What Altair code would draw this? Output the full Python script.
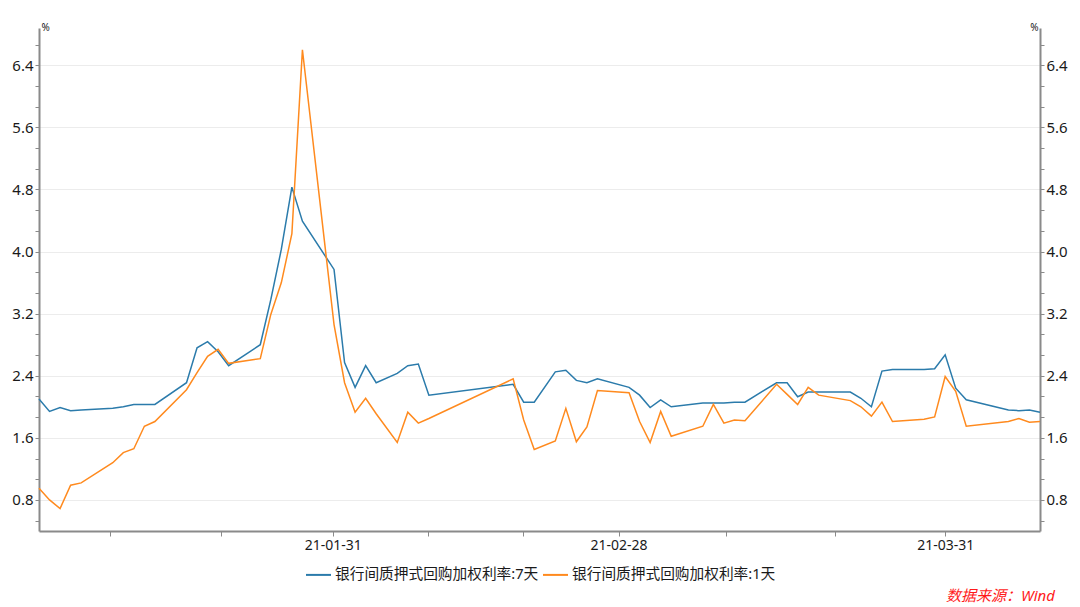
import altair as alt
import pandas as pd

dates = [
    "2021-01-04", "2021-01-05", "2021-01-06", "2021-01-07", "2021-01-08",
    "2021-01-11", "2021-01-12", "2021-01-13", "2021-01-14", "2021-01-15",
    "2021-01-18", "2021-01-19", "2021-01-20", "2021-01-21", "2021-01-22",
    "2021-01-25", "2021-01-26", "2021-01-27", "2021-01-28", "2021-01-29",
    "2021-02-01", "2021-02-02", "2021-02-03", "2021-02-04", "2021-02-05",
    "2021-02-07", "2021-02-08", "2021-02-09", "2021-02-10",
    "2021-02-18", "2021-02-19", "2021-02-20",
    "2021-02-22", "2021-02-23", "2021-02-24", "2021-02-25", "2021-02-26",
    "2021-03-01", "2021-03-02", "2021-03-03", "2021-03-04", "2021-03-05",
    "2021-03-08", "2021-03-09", "2021-03-10", "2021-03-11", "2021-03-12",
    "2021-03-15", "2021-03-16", "2021-03-17", "2021-03-18", "2021-03-19",
    "2021-03-22", "2021-03-23", "2021-03-24", "2021-03-25", "2021-03-26",
    "2021-03-29", "2021-03-30", "2021-03-31", "2021-04-01", "2021-04-02",
    "2021-04-06", "2021-04-07", "2021-04-08", "2021-04-09",
]

rate_7d = [
    2.10, 1.94, 1.99, 1.95, 1.96,
    1.98, 2.00, 2.03, 2.03, 2.03,
    2.31, 2.76, 2.84, 2.71, 2.53,
    2.80, 3.38, 4.03, 4.83, 4.39,
    3.77, 2.57, 2.25, 2.53, 2.31,
    2.43, 2.53, 2.55, 2.15,
    2.29, 2.06, 2.06,
    2.45, 2.47, 2.34, 2.31, 2.36,
    2.25, 2.15, 1.99, 2.09, 2.00,
    2.05, 2.05, 2.05, 2.06, 2.06,
    2.31, 2.31, 2.13, 2.19, 2.19,
    2.19, 2.11, 2.00, 2.46, 2.48,
    2.48, 2.49, 2.67, 2.24, 2.09,
    1.96, 1.95, 1.96, 1.93,
]

rate_1d = [
    0.95, 0.80, 0.69, 0.99, 1.02,
    1.28, 1.41, 1.46, 1.75, 1.81,
    2.22, 2.44, 2.65, 2.74, 2.56,
    2.62, 3.19, 3.60, 4.23, 6.60,
    3.06, 2.31, 1.93, 2.11, 1.91,
    1.54, 1.93, 1.79, 1.85,
    2.36, 1.83, 1.45,
    1.56, 1.98, 1.55, 1.74, 2.21,
    2.18, 1.81, 1.54, 1.94, 1.62,
    1.75, 2.03, 1.79, 1.83, 1.82,
    2.29, 2.16, 2.03, 2.25, 2.15,
    2.08, 2.00, 1.88, 2.06, 1.81,
    1.84, 1.87, 2.39, 2.20, 1.75,
    1.81, 1.85, 1.80, 1.81,
]

series_names = ["银行间质押式回购加权利率:7天", "银行间质押式回购加权利率:1天"]
series_colors = ["#2b7bab", "#ff8a1e"]
source_note = ["数据来源：Wind"]

n = len(dates)
df = pd.DataFrame({
    "date": dates + dates,
    "value": rate_7d + rate_1d,
    "series": [series_names[0]] * n + [series_names[1]] * n,
})

NUM_FONT = "Noto Sans"
MIX_FONT = "'Noto Sans', 'Noto Sans CJK SC'"
AXIS_GRAY = "#8a8a8a"
TEXT = "#1a1a1a"

def dt(m, d, h=0):
    return alt.DateTime(year=2021, month=m, date=d, hours=h, utc=True)

x_major_minor = [dt(1, 10, 18), dt(1, 21, 7), dt(1, 31, 21), dt(2, 9, 22), dt(2, 18, 22),
                 dt(2, 28, 0), dt(3, 10, 5), dt(3, 20, 12), dt(3, 31, 0)]

x_enc = alt.X(
    "date:T",
    title=None,
    scale=alt.Scale(type="utc", domain=[dt(1, 4), dt(4, 9)], nice=False),
    axis=alt.Axis(
        values=x_major_minor,
        labelExpr="indexof(['21-01-31','21-02-28','21-03-31'], utcFormat(datum.value, '%y-%m-%d')) >= 0 ? utcFormat(datum.value, '%y-%m-%d') : ''",
        grid=False,
        tickSize=5,
        tickColor=AXIS_GRAY,
        domainColor=AXIS_GRAY,
        domainWidth=2,
        labelFont=NUM_FONT,
        labelFontSize=14,
        labelColor=TEXT,
        labelPadding=2,
        labelOverlap=False,
        labelFlush=False,
    ),
)

y_ticks = [round(k * 0.8 / 3, 4) for k in range(2, 26)]
major_test = "abs(datum.value / 0.8 - round(datum.value / 0.8)) < 0.01"
y_scale = alt.Scale(domain=[0.4, 6.88], nice=False, zero=False)

def y_axis(orient, grid):
    kw = dict(
        orient=orient,
        values=y_ticks,
        labelExpr=f"{major_test} ? format(datum.value, '.1f') : ''",
        tickSize=4,
        tickColor=AXIS_GRAY,
        domainColor=AXIS_GRAY,
        domainWidth=2,
        labelFont=NUM_FONT,
        labelFontSize=15,
        labelColor=TEXT,
        labelPadding=2,
        labelOverlap=False,
        title="%",
        titleAngle=0,
        titleFont=NUM_FONT,
        titleFontSize=10,
        titleFontWeight="normal",
        titleColor=TEXT,
        titleBaseline="bottom",
        titleY=4,
        titleAlign="left" if orient == "left" else "right",
        titleX=2 if orient == "left" else -2,
        grid=grid,
    )
    if grid:
        kw["gridColor"] = "#ececec"
        kw["gridOpacity"] = {"condition": {"test": major_test, "value": 1}, "value": 0}
    return alt.Axis(**kw)

color_enc = alt.Color(
    "series:N",
    scale=alt.Scale(domain=series_names, range=series_colors),
    legend=alt.Legend(
        title=None,
        orient="none",
        legendX=266,
        legendY=533,
        direction="horizontal",
        symbolType="stroke",
        symbolSize=625,
        symbolStrokeWidth=2,
        labelFont=MIX_FONT,
        labelFontSize=14.7,
        labelColor=TEXT,
        labelLimit=0,
        labelOffset=3,
        columnPadding=0,
        padding=0,
    ),
)

base = alt.Chart(df)

line_7d = base.transform_filter(alt.datum.series == series_names[0]).mark_line(strokeWidth=1.5).encode(
    x=x_enc,
    y=alt.Y("value:Q", scale=y_scale, axis=y_axis("left", True)),
    color=color_enc,
)

line_1d = base.transform_filter(alt.datum.series == series_names[1]).mark_line(strokeWidth=1.5).encode(
    x=x_enc,
    y=alt.Y("value:Q", scale=y_scale, axis=y_axis("right", False)),
    color=color_enc,
)

note = alt.Chart(pd.DataFrame({"t": source_note})).mark_text(
    font=MIX_FONT, fontSize=15, fontStyle="italic", color="#ff1a1a", align="right", baseline="middle"
).encode(text="t:N", x=alt.value(1016), y=alt.value(568))

chart = (
    alt.layer(line_7d, line_1d, note)
    .resolve_scale(y="independent")
    .properties(
        width=1001,
        height=503,
        autosize=alt.AutoSizeParams(type="none"),
        padding={"left": 39, "top": 28, "right": 40, "bottom": 76},
        background="white",
    )
    .configure_view(stroke=None)
)

chart.save("out.html", embed_options={"renderer": "svg", "actions": False})
